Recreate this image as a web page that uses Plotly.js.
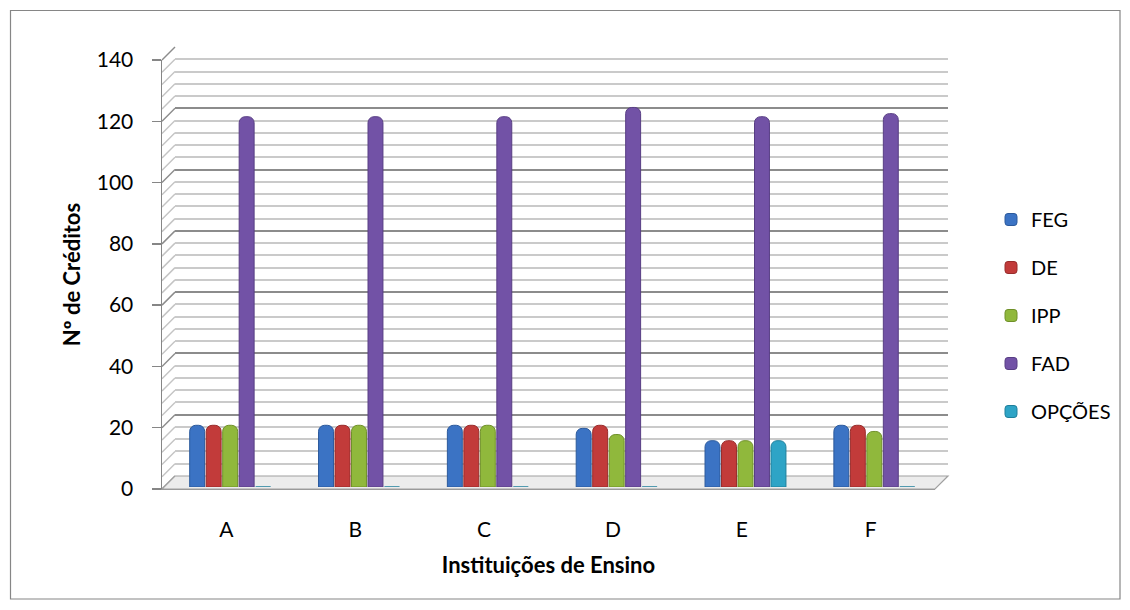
<!DOCTYPE html>
<html>
<head>
<meta charset="utf-8">
<script src="https://cdn.plot.ly/plotly-3.0.1.min.js"></script>
<style>html,body{margin:0;padding:0;background:#fff;}#chart{width:1130px;height:610px;}</style>
</head>
<body>
<div id="chart"></div>
<script>
// ---- data ----
const categories = ["A", "B", "C", "D", "E", "F"];
const FEG    = [20, 20, 20, 19, 15, 20];
const DE     = [20, 20, 20, 20, 15, 20];
const IPP    = [20, 20, 20, 17, 15, 18];
const FAD    = [120, 120, 120, 123, 120, 121];
const OPCOES = [0, 0, 0, 0, 15, 0];
const seriesNames = ["FEG", "DE", "IPP", "FAD", "OPÇÕES"];
const yTicks = [0, 20, 40, 60, 80, 100, 120, 140];

// ---- layout geometry (pixels) ----
const W = 1130, H = 610;
const front = {x0: 162, x1: 935, yBottom: 489, yTop: 60};
const depth = {dx: 13, dy: 13};
const barAxis = {yBottom: 487, yTop: 55};
const colors = ["#3b73c4", "#c23b3a", "#90b83c", "#7252a6", "#2ea4c6"];
const edges  = ["#2c5a9c", "#982c2b", "#6f9029", "#583e84", "#1f7f9b"];
const FONT = "Lato, 'Open Sans', sans-serif";

const px = x => x / W;
const py = y => (H - y) / H;

const seriesData = [FEG, DE, IPP, FAD, OPCOES];
const barW = 0.116, barStep = 0.128, firstOffset = -0.285;
const traces = [];
// helper (empty) traces so that the back-wall and front-axis subplots are created
traces.push({type: "scatter", x: [], y: [], xaxis: "x", yaxis: "y", showlegend: false, hoverinfo: "skip"});
traces.push({type: "scatter", x: [], y: [], xaxis: "x2", yaxis: "y2", showlegend: false, hoverinfo: "skip"});
seriesNames.forEach((name, i) => traces.push({
  type: "bar",
  name: name,
  x: categories,
  y: seriesData[i],
  xaxis: "x2",
  yaxis: "y3",
  width: barW,
  offset: firstOffset + i * barStep,
  marker: {color: colors[i], line: {width: 1, color: edges[i]}, cornerradius: 6},
  legendgroup: name,
  hoverinfo: "x+y+name"
}));

// decorations: outer border, floor slab and left side-wall diagonals
const shapes = [];
shapes.push({
  type: "rect", xref: "paper", yref: "paper",
  x0: px(10.5), x1: px(1120), y0: py(599), y1: py(10.5),
  line: {color: "#868686", width: 1.2}, fillcolor: "rgba(0,0,0,0)", layer: "below"
});
const unitPx = (front.yBottom - front.yTop) / 140;
for (let v = 0; v <= 140; v += 4) {
  const yf = front.yBottom - v * unitPx;
  shapes.push({
    type: "line", xref: "paper", yref: "paper",
    x0: px(front.x0), y0: py(yf), x1: px(front.x0 + depth.dx), y1: py(yf - depth.dy),
    line: {color: (v % 20 === 0) ? "#8c8c8c" : "#c4c4c4", width: 1.5}, layer: "below"
  });
}
shapes.push({
  type: "path", xref: "paper", yref: "paper",
  path: `M ${px(front.x0)} ${py(front.yBottom)} L ${px(front.x1)} ${py(front.yBottom)} L ${px(front.x1 + depth.dx)} ${py(front.yBottom - depth.dy)} L ${px(front.x0 + depth.dx)} ${py(front.yBottom - depth.dy)} Z`,
  fillcolor: "#ececec", line: {color: "#a0a0a0", width: 1.2}, layer: "below"
});

const layout = {
  width: W, height: H,
  margin: {l: 0, r: 0, t: 0, b: 0},
  paper_bgcolor: "#ffffff",
  plot_bgcolor: "rgba(0,0,0,0)",
  barmode: "overlay",
  showlegend: true,
  font: {family: FONT, size: 20, color: "#000"},
  // back wall grid
  xaxis: {
    domain: [px(front.x0 + depth.dx), px(front.x1 + depth.dx)],
    range: [-0.5, 5.5], showgrid: false, showticklabels: false, zeroline: false,
    showline: false, ticks: "", anchor: "y", fixedrange: true
  },
  yaxis: {
    domain: [py(front.yBottom - depth.dy), py(front.yTop - depth.dy)],
    range: [0, 140], dtick: 20, tick0: 0, showgrid: true, gridcolor: "#8c8c8c", gridwidth: 2,
    minor: {dtick: 4, tick0: 0, showgrid: true, gridcolor: "#cacaca", gridwidth: 2},
    showticklabels: false, zeroline: false, showline: false, ticks: "", anchor: "x", fixedrange: true
  },
  // front axes with labels
  xaxis2: {
    domain: [px(front.x0), px(front.x1)],
    type: "category", range: [-0.5, 5.5], anchor: "y2",
    showgrid: false, zeroline: false, showline: true, linecolor: "#9a9a9a", linewidth: 1.2,
    ticks: "", ticklabelstandoff: 22,
    tickfont: {family: FONT, size: 21, color: "#000"},
    title: {text: "Instituições de Ensino", font: {family: FONT, size: 22, color: "#000", weight: "bold"}, standoff: 17},
    fixedrange: true
  },
  yaxis2: {
    domain: [py(front.yBottom), py(front.yTop)],
    range: [0, 140], tickvals: yTicks, anchor: "x2",
    showgrid: false, zeroline: false, showline: true, linecolor: "#868686", linewidth: 1.5,
    ticks: "outside", ticklen: 9, tickcolor: "#868686", tickwidth: 1.5, ticklabelstandoff: 14,
    tickfont: {family: FONT, size: 21, color: "#000"},
    title: {text: "Nº de Créditos", font: {family: FONT, size: 22, color: "#000", weight: "bold"}, standoff: 10},
    fixedrange: true
  },
  // bar axis (cylinders sit slightly inside the depth)
  yaxis3: {
    domain: [py(barAxis.yBottom), py(barAxis.yTop)],
    range: [0, 140], anchor: "x2", visible: false, fixedrange: true
  },
  legend: {
    x: px(991), y: py(200), xanchor: "left", yanchor: "top",
    font: {family: FONT, size: 20, color: "#000"},
    tracegroupgap: 19, bgcolor: "rgba(0,0,0,0)", itemwidth: 30
  },
  shapes: shapes
};

Plotly.newPlot("chart", traces, layout, {displayModeBar: false, staticPlot: true});
</script>
</body>
</html>
